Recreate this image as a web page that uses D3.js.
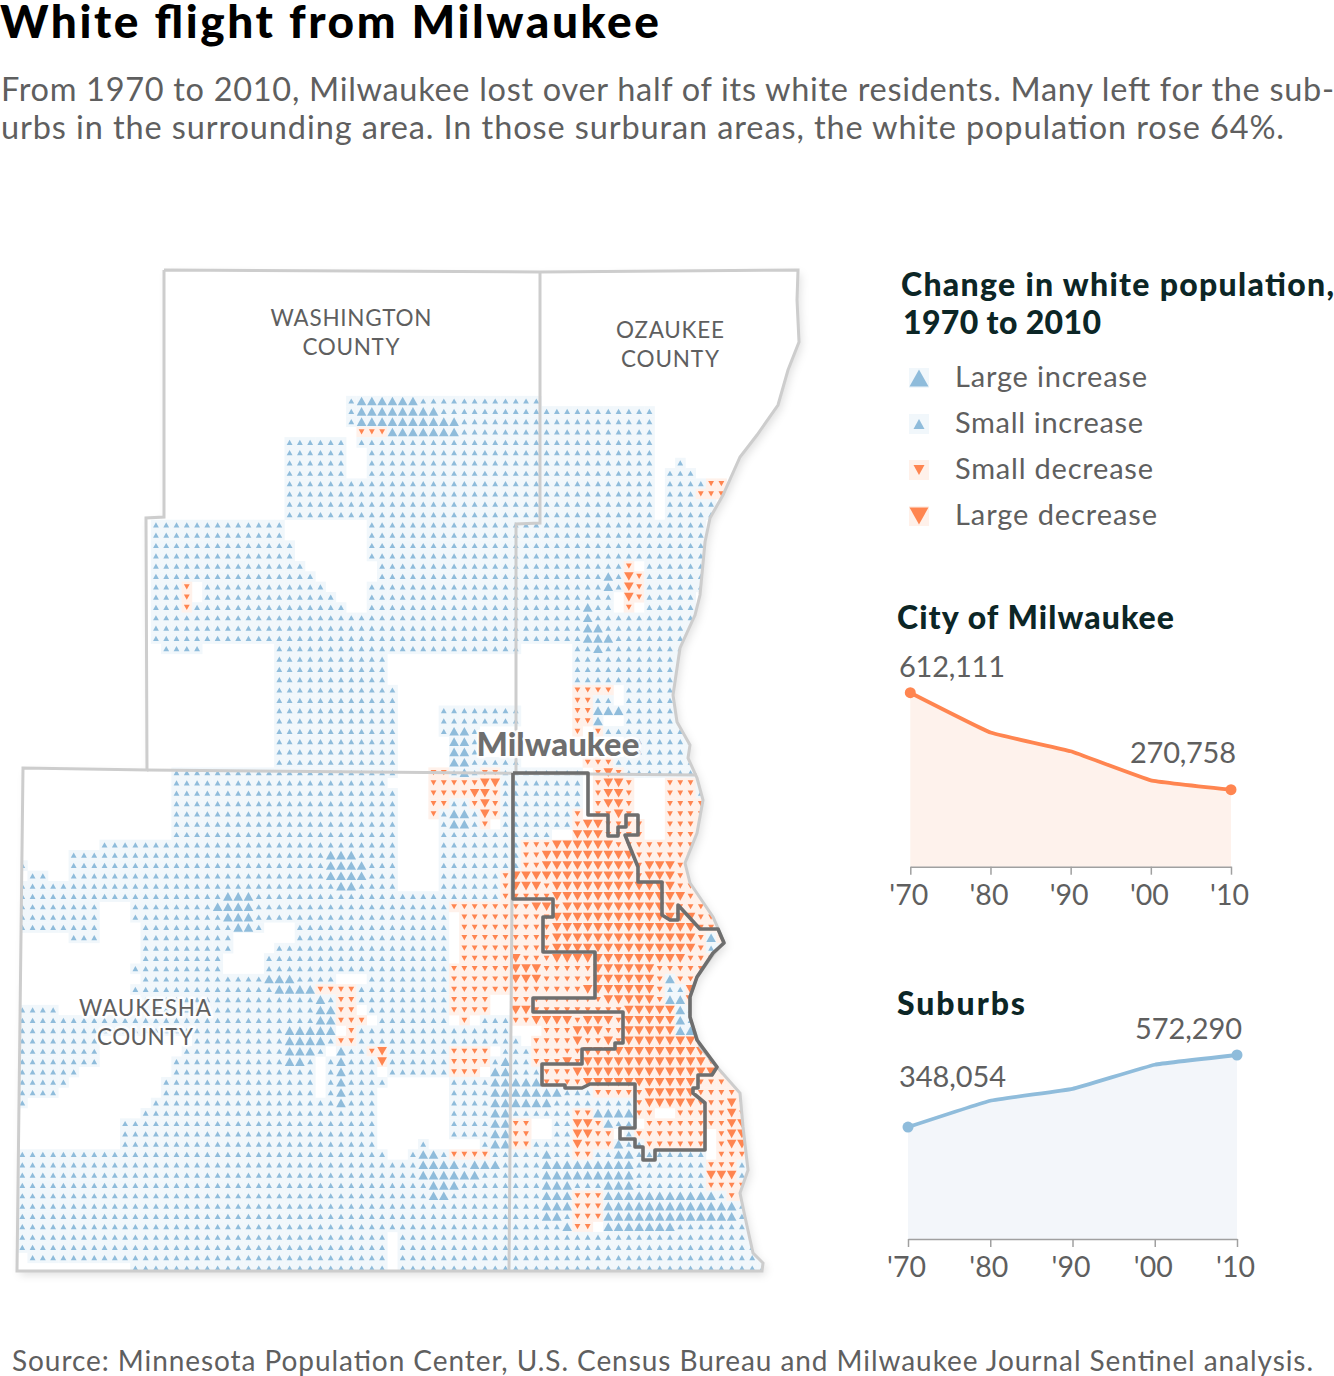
<!DOCTYPE html>
<meta charset="utf-8">
<style>
body { margin: 0; background: #fff; }
svg { display: block; }
text { font-family: Lato, sans-serif; fill: #5f5f5f; }
.head { font-weight: 900; fill: #0c2626; }
.axis path, .axis line { stroke: #a0a0a0; stroke-width: 1.5; fill: none; }
.axis text { font: 28.5px Lato, sans-serif; fill: #5f5f5f; }
</style>
<svg id="chart" width="1334" height="1376"></svg>
<script src="https://d3js.org/d3.v7.min.js"></script>
<script>
// map grid: for each row, the column spans that hold a triangle (small increase unless overridden)
var rowSpans = [
  [[32,50]], [[32,61]], [[32,61]], [[33,61]],
  [[26,31],[33,61]], [[26,31],[34,61]], [[26,31],[34,61],[64,64]], [[26,31],[34,61],[63,65]],
  [[26,61],[63,68]], [[26,61],[63,68]], [[26,61],[63,67]], [[26,61],[63,67]],
  [[13,25],[34,66]], [[13,25],[34,66]], [[13,26],[34,66]], [[13,26],[34,66]],
  [[13,27],[35,59],[61,66]], [[13,28],[35,66]], [[13,16],[18,29],[34,66]], [[13,16],[18,30],[34,57],[59,65]],
  [[13,31],[34,57],[59,59],[61,65]], [[13,65]], [[13,65]], [[13,65]],
  [[14,17],[25,48],[54,64]], [[25,35],[54,64]], [[25,35],[54,64]], [[25,35],[54,64]],
  [[25,36],[54,57],[59,64]], [[25,36],[54,57],[59,64]], [[25,36],[41,48],[54,64]], [[25,36],[41,48],[54,56],[59,64]],
  [[25,36],[41,44],[54,54],[56,64]], [[25,36],[42,44],[59,65]], [[25,36],[42,44],[59,65]], [[25,36],[42,48],[55,65]],
  [[15,36],[40,54],[56,66]], [[15,35],[40,54],[56,59],[63,66]], [[15,36],[40,54],[56,59],[63,66]], [[15,36],[40,54],[56,59],[63,67]],
  [[15,36],[40,54],[56,59],[63,67]], [[15,36],[41,45],[47,60],[63,67]], [[15,36],[41,51],[54,60],[63,66]], [[8,36],[41,66]],
  [[5,36],[41,68]], [[0,0],[5,36],[41,68]], [[1,2],[5,36],[41,68]], [[0,36],[41,68]],
  [[0,68]], [[0,7],[11,68]], [[0,7],[11,41],[43,69]], [[0,7],[12,23],[27,41],[43,69]],
  [[5,7],[12,20],[27,41],[43,69]], [[12,20],[25,41],[43,69]], [[12,19],[24,41],[43,69]], [[11,19],[24,69]],
  [[12,30],[34,69]], [[11,69]], [[12,45],[48,69]], [[0,3],[12,32],[34,45],[48,69]],
  [[0,33],[35,41],[43,43],[45,69]], [[0,30],[32,47],[51,69]], [[0,7],[17,48],[50,69]], [[0,7],[16,29],[31,45],[47,69]],
  [[0,7],[15,28],[30,69]], [[0,5],[15,28],[30,34],[36,44],[46,69]], [[0,4],[14,28],[30,35],[42,69]], [[0,3],[14,28],[30,34],[42,70]],
  [[0,0],[13,34],[42,70]], [[12,34],[42,61],[64,70]], [[10,34],[42,49],[52,59],[61,71]], [[10,34],[42,49],[52,57],[59,66],[68,71]],
  [[10,34],[39,39],[45,66],[68,71]], [[0,35],[38,66],[68,71]], [[0,71]], [[0,71]],
  [[0,72]], [[0,72]], [[0,72]], [[0,72]],
  [[0,55],[57,72]], [[0,35],[37,72]], [[0,35],[37,72]], [[1,35],[37,72]], [[11,35],[37,72]]
];

// overrides as [row, from column, to column]
var smallDownRuns = [
  [3,33,35],[8,67,68],[9,66,68],[16,59,59],[17,60,60],[18,16,16],[18,60,60],[19,16,16],[19,60,60],[20,16,16],[20,59,59],
  [28,54,57],[29,54,55],[30,54,55],[31,54,55],[32,54,54],[32,56,56],[35,55,57],
  [36,40,41],[36,45,46],[36,56,58],[37,40,44],[37,56,59],[37,63,65],[38,40,43],[38,46,46],[38,56,59],[38,63,65],
  [39,40,41],[39,44,46],[39,56,59],[39,63,66],[40,40,40],[40,46,46],[40,54,54],[40,56,57],[40,59,59],[40,63,66],
  [41,45,45],[41,54,54],[41,57,60],[41,63,66],[42,57,60],[42,63,65],[43,49,66],[44,49,66],[45,49,66],[46,47,66],[47,47,67],[48,47,67],
  [49,42,67],[50,43,68],[51,43,68],[52,43,66],[52,68,68],[53,43,66],[54,43,68],[55,42,68],[56,42,62],[56,64,66],
  [57,29,32],[57,42,62],[57,65,65],[58,31,32],[58,42,45],[58,48,62],[58,65,65],[59,31,32],[59,42,45],[59,48,63],
  [60,31,33],[60,43,43],[60,48,63],[61,32,32],[61,51,63],[62,31,32],[62,50,66],[63,34,35],[63,42,45],[63,50,68],
  [64,35,35],[64,42,45],[64,50,68],[65,42,44],[65,51,68],[66,51,69],[67,56,70],[68,60,70],[69,54,55],[69,60,61],[69,64,70],
  [70,48,49],[70,54,56],[70,60,71],[71,48,49],[71,54,57],[71,60,66],[71,68,71],[72,48,49],[72,54,57],[72,61,66],[72,68,71],
  [73,42,45],[73,54,55],[73,68,70],[74,67,69],[75,67,69],[76,67,70],[77,54,56],[77,69,70],[78,54,56],[79,54,56],[80,54,55]
];
var largeUpRuns = [
  [0,33,38],[1,33,40],[2,33,42],[3,36,42],[17,57,57],[18,57,57],[20,55,55],[21,55,55],[22,55,56],[23,55,57],[24,56,56],
  [30,56,58],[31,56,56],[32,42,43],[33,42,43],[34,42,43],[35,42,43],[36,43,43],[40,42,43],[41,42,43],
  [44,30,32],[45,30,33],[46,30,33],[47,31,32],[48,20,22],[49,19,22],[50,20,22],[51,21,22],[52,67,67],
  [56,24,26],[56,63,63],[57,25,28],[58,29,29],[58,63,64],[59,29,30],[59,64,64],[60,29,30],[60,64,64],[61,26,30],[61,64,65],
  [62,26,29],[63,26,28],[63,31,31],[64,26,27],[64,31,31],[64,47,47],[65,31,31],[65,46,47],[66,31,31],[66,46,50],[67,31,31],[67,46,52],
  [68,31,31],[68,46,51],[69,46,47],[69,56,59],[70,46,47],[70,57,57],[71,46,47],[72,46,47],[72,58,58],
  [73,39,40],[73,51,51],[73,58,59],[74,39,42],[74,44,46],[74,51,59],[75,39,44],[75,51,59],[76,40,42],[76,51,53],[76,57,59],
  [77,40,41],[77,51,53],[77,57,67],[78,51,53],[78,57,69],[79,51,52],[79,57,69],[80,53,53],[80,57,63]
];
var largeDownRuns = [
  [17,59,59],[18,59,59],[19,59,59],[36,57,57],[37,45,46],[37,57,58],[38,44,45],[38,57,58],[39,45,45],[39,57,58],[40,45,45],[40,58,58],
  [41,55,56],[42,54,56],[43,52,57],[44,51,59],[45,51,59],[45,61,63],[46,48,59],[46,61,63],[47,48,50],[47,52,63],[48,52,64],
  [49,50,51],[49,53,63],[50,52,65],[51,52,65],[52,52,65],[53,52,65],[54,48,48],[54,52,64],[55,48,50],[55,56,61],[56,48,50],[56,56,61],
  [57,55,61],[57,65,65],[58,57,61],[58,65,65],[59,48,49],[59,59,63],[60,50,53],[60,55,57],[60,59,63],[61,54,56],[61,59,63],
  [62,54,54],[62,57,57],[62,59,65],[63,35,35],[63,55,66],[64,35,35],[64,53,53],[64,55,66],[65,54,67],[66,55,65],[67,61,65],
  [68,61,65],[68,69,69],[69,69,69],[70,54,55],[70,69,70],[71,54,55],[71,69,70],[72,54,54],[72,69,70],[75,67,69]
];

// outlines
var outerShape = [[164,270],[540,272],[798,270],[797,300],[799,342],[788,370],[778,405],[757,435],[740,457],[723,495],[710,518],[705,542],[700,595],[695,615],[680,648],[673,695],[677,722],[690,745],[688,758],[697,778],[703,800],[697,833],[685,863],[690,883],[713,917],[724,942],[713,955],[697,977],[690,997],[690,1017],[700,1047],[717,1067],[740,1093],[743,1127],[748,1170],[740,1193],[745,1217],[753,1253],[763,1263],[762,1271],[17,1271],[23,768],[147,770],[146,518],[164,517],[164,270]];
var countyLines = [
  [[540,272],[540,523],[516,524],[516,772]],
  [[147,770],[697,775]],
  [[513,772],[509,1271]]
];
var cityShape = [[513,773],[588,773],[588,815],[608,815],[608,836],[618,836],[618,827],[626,827],[626,815],[638,815],[638,835],[625,835],[638,867],[638,882],[662,882],[662,915],[670,920],[678,920],[678,905],[700,929],[718,929],[724,943],[713,953],[697,977],[690,997],[690,1017],[697,1040],[717,1067],[712,1075],[698,1075],[698,1088],[693,1088],[693,1093],[705,1103],[705,1150],[655,1150],[655,1160],[643,1160],[643,1147],[635,1147],[635,1139],[620,1139],[620,1128],[635,1128],[635,1084],[590,1084],[582,1088],[565,1088],[565,1085],[542,1085],[542,1064],[582,1064],[582,1049],[615,1049],[615,1043],[623,1043],[623,1012],[533,1012],[533,998],[595,998],[595,952],[543,952],[543,917],[553,917],[553,899],[513,899],[513,773]];

var legendLabels = ["Large increase", "Small increase", "Small decrease", "Large decrease"];

var years = [1970, 1980, 1990, 2000, 2010];
var tickLabels = ["'70", "'80", "'90", "'00", "'10"];
var cityValues = [612111, 472000, 406000, 304000, 270758];
var suburbValues = [348054, 430000, 467000, 542000, 572290];

var BLUE = "#8fbcdb", ORANGE = "#ff8550", BLUE_BG = "#f1f7fb", ORANGE_BG = "#fff1ea";
var GRAY = "#6e6e6e";

var svg = d3.select("#chart");

function put(txt, x, y, size, width, cls, anchor) {
  var t = svg.append("text").attr("x", x).attr("y", y).style("font-size", size + "px").text(txt);
  if (cls) t.attr("class", cls);
  if (anchor) t.attr("text-anchor", anchor);
  if (width) t.attr("textLength", width).attr("lengthAdjust", "spacing");
  return t;
}

// title block
put("White flight from Milwaukee", 0, 38, 46, 659).style("font-weight", 900).style("fill", "#000");
put("From 1970 to 2010, Milwaukee lost over half of its white residents. Many left for the sub-", 1, 101, 32.5, 1333);
put("urbs in the surrounding area. In those surburan areas, the white population rose 64%.", 1, 139, 32.5, 1283);

// triangles are centred on their bounding box, size = width
var triUp = { draw: function(p, w) { var h = w * 0.9; p.moveTo(0, -h / 2); p.lineTo(w / 2, h / 2); p.lineTo(-w / 2, h / 2); p.closePath(); } };
var triDown = { draw: function(p, w) { var h = w * 0.9; p.moveTo(0, h / 2); p.lineTo(w / 2, -h / 2); p.lineTo(-w / 2, -h / 2); p.closePath(); } };
var kinds = {
  smallUp:   { shape: triUp,   w: 5.8, fill: BLUE,   bg: BLUE_BG },
  largeUp:   { shape: triUp,   w: 9.6, fill: BLUE,   bg: BLUE_BG },
  smallDown: { shape: triDown, w: 5.8, fill: ORANGE, bg: ORANGE_BG },
  largeDown: { shape: triDown, w: 9.6, fill: ORANGE, bg: ORANGE_BG }
};

// build cells
var cellKind = {};
rowSpans.forEach(function(spans, r) {
  spans.forEach(function(s) { d3.range(s[0], s[1] + 1).forEach(function(c) { cellKind[r + "_" + c] = "smallUp"; }); });
});
[[smallDownRuns, "smallDown"], [largeUpRuns, "largeUp"], [largeDownRuns, "largeDown"]].forEach(function(o) {
  o[0].forEach(function(run) {
    d3.range(run[1], run[2] + 1).forEach(function(c) {
      var k = run[0] + "_" + c;
      if (cellKind[k]) cellKind[k] = o[1];
    });
  });
});
var cells = Object.keys(cellKind).map(function(k) {
  var p = k.split("_");
  return { row: +p[0], col: +p[1], kind: kinds[cellKind[k]] };
});

var x = d3.scaleLinear().domain([0, 72]).range([22.3, 762.5]);
var y = d3.scaleLinear().domain([0, 84]).range([401, 1268]);
var cw = x(1) - x(0), ch = y(1) - y(0);
var outline = d3.line();

// map
svg.append("defs").append("clipPath").attr("id", "land").append("path").attr("d", outline(outerShape));
svg.append("path").attr("d", outline(outerShape)).attr("fill", "#fff")
  .style("filter", "drop-shadow(3px 4px 4px rgba(0,0,0,.12))");

var land = svg.append("g").attr("clip-path", "url(#land)");
land.selectAll("rect").data(cells).enter().append("rect")
  .attr("x", function(d) { return x(d.col) - cw / 2; })
  .attr("y", function(d) { return y(d.row) - ch / 2; })
  .attr("width", cw + 0.3)
  .attr("height", ch + 0.3)
  .attr("fill", function(d) { return d.kind.bg; });
land.selectAll("path").data(cells).enter().append("path")
  .attr("transform", function(d) { return "translate(" + x(d.col) + "," + y(d.row) + ")"; })
  .attr("d", function(d) { return d3.symbol().type(d.kind.shape).size(d.kind.w)(); })
  .attr("fill", function(d) { return d.kind.fill; });

svg.append("path").attr("d", outline(outerShape)).attr("fill", "none").attr("stroke", "#cdcdcd").attr("stroke-width", 3);
svg.selectAll(".county").data(countyLines).enter().append("path").attr("class", "county")
  .attr("d", outline).attr("fill", "none").attr("stroke", "#cdcdcd").attr("stroke-width", 3);
svg.append("path").attr("d", outline(cityShape)).attr("fill", "none")
  .attr("stroke", GRAY).attr("stroke-width", 3.6).attr("stroke-linejoin", "round");

function mapLabel(txt, cx, by, size, width, weight, col) {
  put(txt, cx - width / 2, by, size, width)
    .style("font-weight", weight || 400).style("fill", col || "#5f5f5f")
    .style("paint-order", "stroke").style("stroke", "rgba(255,255,255,.85)").style("stroke-width", 5).style("stroke-linejoin", "round");
}
mapLabel("WASHINGTON", 351, 326, 22.5, 161);
mapLabel("COUNTY", 351, 355, 22.5, 97);
mapLabel("OZAUKEE", 670, 337.5, 22.5, 108);
mapLabel("COUNTY", 670, 366.5, 22.5, 98);
mapLabel("WAUKESHA", 145, 1015.5, 22.5, 132);
mapLabel("COUNTY", 145, 1044.5, 22.5, 96);
mapLabel("Milwaukee", 558, 756, 33, 163, 900, GRAY);

// legend
put("Change in white population,", 901, 296, 32, 433, "head");
put("1970 to 2010", 903, 334, 32, 198, "head");
var legendY = d3.scalePoint().domain(legendLabels).range([378, 516]);
var legendKinds = [
  { shape: triUp, w: 19, fill: BLUE, bg: BLUE_BG, len: 192 },
  { shape: triUp, w: 11, fill: BLUE, bg: BLUE_BG, len: 188 },
  { shape: triDown, w: 11, fill: ORANGE, bg: ORANGE_BG, len: 198 },
  { shape: triDown, w: 19, fill: ORANGE, bg: ORANGE_BG, len: 202 }
];
legendLabels.forEach(function(lab, i) {
  var ly = legendY(lab), k = legendKinds[i];
  svg.append("rect").attr("x", 909).attr("y", ly - 10).attr("width", 20).attr("height", 20).attr("fill", k.bg);
  svg.append("path").attr("transform", "translate(919," + ly + ")")
    .attr("d", d3.symbol().type(k.shape).size(k.w)()).attr("fill", k.fill);
  put(lab, 955, ly + 8.5, 29, k.len);
});

// small line charts
function smallChart(values, x0, x1, yTop, yBase, col, bg, tickPad) {
  var sx = d3.scaleLinear().domain([1970, 2010]).range([x0, x1]);
  var sy = d3.scaleLinear().domain([0, d3.max(values)]).range([yBase, yTop]);
  var pts = years.map(function(yr, i) { return { year: yr, value: values[i] }; });
  var curve = d3.curveCardinal.tension(0.75);
  var g = svg.append("g");
  g.append("path").datum(pts).attr("fill", bg)
    .attr("d", d3.area().curve(curve)
      .x(function(d) { return sx(d.year); }).y0(yBase).y1(function(d) { return sy(d.value); }));
  g.append("g").attr("class", "axis").attr("transform", "translate(0," + yBase + ")")
    .call(d3.axisBottom(sx).tickValues(years).tickSize(8).tickSizeOuter(0).tickPadding(tickPad)
      .tickFormat(function(d, i) { return tickLabels[i]; }))
    .selectAll("text").attr("dx", -2);
  g.append("path").datum(pts).attr("fill", "none").attr("stroke", col).attr("stroke-width", 3.8)
    .attr("d", d3.line().curve(curve)
      .x(function(d) { return sx(d.year); }).y(function(d) { return sy(d.value); }));
  g.selectAll("circle").data([pts[0], pts[4]]).enter().append("circle")
    .attr("cx", function(d) { return sx(d.year); }).attr("cy", function(d) { return sy(d.value); })
    .attr("r", 5.5).attr("fill", col);
}

put("City of Milwaukee", 897, 629, 32, 277, "head");
smallChart(cityValues, 910.3, 1231, 692.7, 866.7, ORANGE, "#fef2ec", 10);
put("612,111", 899, 676.5, 29, 106);
put("270,758", 1130, 763, 29, 106);

put("Suburbs", 897, 1015, 32, 128, "head");
smallChart(suburbValues, 908, 1237, 1055, 1239, BLUE, "#f3f6fa", 10);
put("348,054", 899, 1086.5, 29, 107);
put("572,290", 1135, 1038.5, 29, 107);

put("Source: Minnesota Population Center, U.S. Census Bureau and Milwaukee Journal Sentinel analysis.", 12, 1371, 28, 1301);
</script>
